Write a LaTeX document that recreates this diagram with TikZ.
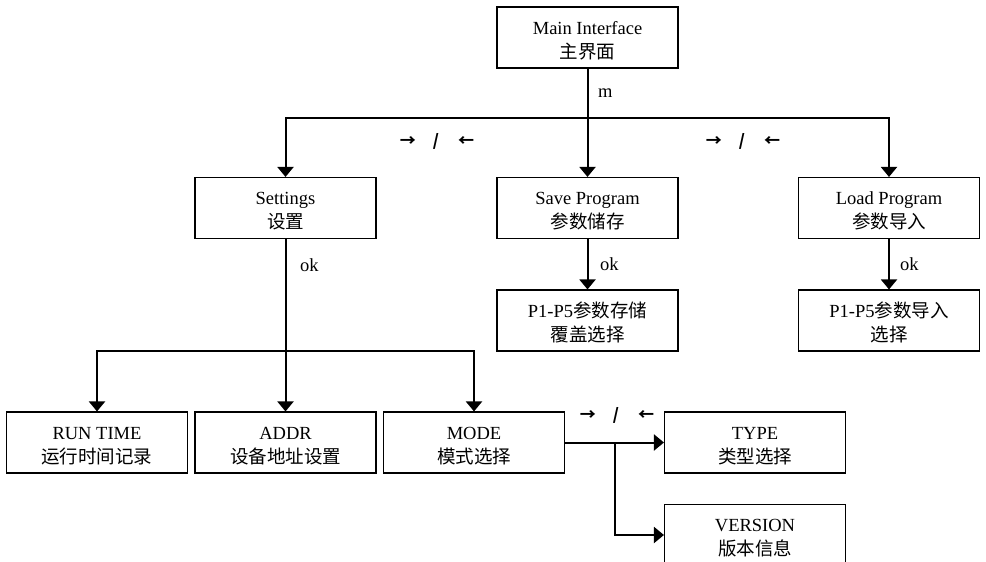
\documentclass[tikz,border=0pt]{standalone}
\usepackage{fontspec}
\setmainfont{Liberation Serif}
\newfontfamily\cjk{Noto Sans CJK SC}
\newcommand{\zh}[1]{{\cjk #1}}
\newcommand{\lr}{→\hspace{17pt}/\hspace{19pt}←}
\usetikzlibrary{arrows.meta}
\begin{document}
\begin{tikzpicture}[x=1pt,y=-1pt,
  box/.style={draw, line width=1.1pt, minimum width=181pt, minimum height=61pt,
    inner sep=0pt, align=center, font=\fontsize{18.5}{24}\selectfont},
  conn/.style={line width=2pt, -{Triangle[width=16pt,length=10pt]}},
  plain/.style={line width=2pt},
  lbl/.style={font=\fontsize{18.5}{22}\selectfont, inner sep=0pt},
  arr/.style={font=\cjk\bfseries\fontsize{16}{20}\selectfont, inner sep=0pt}]
\useasboundingbox (0,0) rectangle (986,562);
\node[box] (main) at (587.5,37.5) {\rule{0pt}{19pt}Main Interface\\\zh{主界面}};
\node[box] (settings) at (285.5,208) {\rule{0pt}{19pt}Settings\\\zh{设置}};
\node[box] (save) at (587.5,208) {\rule{0pt}{19pt}Save Program\\\zh{参数储存}};
\node[box] (load) at (889,208) {\rule{0pt}{19pt}Load Program\\\zh{参数导入}};
\node[box] (savep) at (587.5,320.5) {\rule{0pt}{19pt}P1-P5\zh{参数存储}\\\zh{覆盖选择}};
\node[box] (loadp) at (889,320.5) {\rule{0pt}{19pt}P1-P5\zh{参数导入}\\\zh{选择}};
\node[box] (run) at (97,442.5) {\rule{0pt}{19pt}RUN TIME\\\zh{运行时间记录}};
\node[box] (addr) at (285.5,442.5) {\rule{0pt}{19pt}ADDR\\\zh{设备地址设置}};
\node[box] (mode) at (474,442.5) {\rule{0pt}{19pt}MODE\\\zh{模式选择}};
\node[box] (type) at (755,442.5) {\rule{0pt}{19pt}TYPE\\\zh{类型选择}};
\node[box] (version) at (755,535) {\rule{0pt}{19pt}VERSION\\\zh{版本信息}};
\coordinate (hub) at (587.5,117.5);
\coordinate (hub2) at (285.5,351);
\coordinate (hub3) at (615,442.5);
\draw[conn] (main.south) -- (save.north);
\draw[conn] (hub) -| (settings.north);
\draw[conn] (hub) -| (load.north);
\draw[plain] (settings.south) -- (hub2);
\draw[conn] (hub2) -| (run.north);
\draw[conn] (hub2) -| (mode.north);
\draw[conn] (hub2) -- (addr.north);
\draw[conn] (save.south) -- (savep.north);
\draw[conn] (load.south) -- (loadp.north);
\draw[conn] (mode.east) -- (type.west);
\draw[conn] (hub3) |- (version.west);
\node[lbl, anchor=west] (lm) at (598,93) {m};
\node[lbl, anchor=west] (lok1) at (300,265) {ok};
\node[lbl, anchor=west] (lok2) at (600,264) {ok};
\node[lbl, anchor=west] (lok3) at (900,264) {ok};
\node[arr] (a1) at (437,141) {\lr};
\node[arr] (a2) at (743,141) {\lr};
\node[arr] (a3) at (617,415) {\lr};
\end{tikzpicture}
\end{document}
